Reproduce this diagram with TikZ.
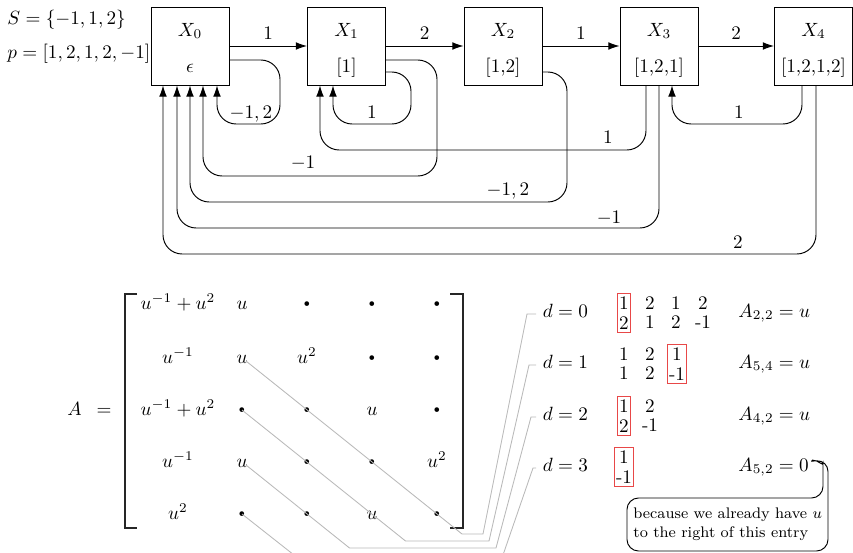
\documentclass[tikz,border=0pt]{standalone}
\usetikzlibrary{arrows.meta,calc}
\definecolor{hlred}{RGB}{232,72,72}
\newcommand{\mdot}{\vcenter{\hbox{\tiny$\bullet$}}}
\begin{document}
\begin{tikzpicture}[x=0.522pt,y=-0.522pt, line width=0.5pt,
  box/.style={draw, minimum width=40.7pt, minimum height=40.7pt, inner sep=0pt},
  conn/.style={draw, -{Latex[length=5.8pt,width=4pt]}, rounded corners=10pt},
  lab/.style={anchor=base, inner sep=0pt},
  ent/.style={anchor=base, inner sep=0pt},
  diag/.style={draw=gray!55, line width=0.45pt},
  dcol/.style={anchor=north, align=center, inner xsep=0.8pt, inner ysep=1.6pt},
  hl/.style={draw=hlred, line width=0.6pt},
  dlab/.style={anchor=base west},
  alab/.style={anchor=base west, inner sep=0pt}]
\clip (0,0) rectangle (853,553);

% ---------- automaton ----------
\node[anchor=base west, inner sep=0pt] (S) at (7,24) {$S=\{-1,1,2\}$};
\node[anchor=base west, inner sep=0pt] (P) at (7,58) {$p=[1,2,1,2,-1]$};

\node[box] (X0) at (190,46) {};
\node[box] (X1) at (346.5,46) {};
\node[box] (X2) at (503,46) {};
\node[box] (X3) at (659,46) {};
\node[box] (X4) at (813.5,46) {};

\node[lab] (X0a) at (190,36) {$X_0$};
\node[lab] (X0b) at (190,72) {$\epsilon$};
\node[lab] (X1a) at (346.5,36) {$X_1$};
\node[lab] (X1b) at (346.5,72) {[1]};
\node[lab] (X2a) at (503,36) {$X_2$};
\node[lab] (X2b) at (503,72) {[1,2]};
\node[lab] (X3a) at (659,36) {$X_3$};
\node[lab] (X3b) at (659,72) {[1,2,1]};
\node[lab] (X4a) at (813.5,36) {$X_4$};
\node[lab] (X4b) at (813.5,72) {[1,2,1,2]};

\draw[conn] (X0) -- node[above] (e01) {$1$} (X1);
\draw[conn] (X1) -- node[above] (e12) {$2$} (X2);
\draw[conn] (X2) -- node[above] (e23) {$1$} (X3);
\draw[conn] (X3) -- node[above] (e34) {$2$} (X4);

% back connectors
\draw[conn] ($(X0.east)+(0,14)$) -- (280,60) -- (280,124) -- (217,124) -- ($(X0.south)+(27,0)$);
\node[lab] (l00) at (251,118) {$-1,2$};

\draw[conn] ($(X1.east)+(0,26)$) -- (411,72) -- (411,124) -- (333,124) -- ($(X1.south)+(-13.5,0)$);
\node[lab] (l11) at (372,118) {$1$};

\draw[conn] ($(X1.east)+(0,14)$) -- (437,60) -- (437,176) -- (203,176) -- ($(X0.south)+(13,0)$);
\node[lab] (l10) at (303,168) {$-1$};

\draw[conn] ($(X2.east)+(0,26)$) -- (567,72) -- (567,202) -- (190,202) -- (X0.south);
\node[lab] (l20) at (508,195) {$-1,2$};

\draw[conn] ($(X3.south)+(-13,0)$) -- (646,150) -- (320,150) -- ($(X1.south)+(-26.5,0)$);
\node[lab] (l31) at (608,143) {$1$};

\draw[conn] (X3.south) -- (659,228) -- (177,228) -- ($(X0.south)+(-13,0)$);
\node[lab] (l30) at (609,223) {$-1$};

\draw[conn] ($(X4.south)+(-11.5,0)$) -- (802,124) -- (672,124) -- ($(X3.south)+(13,0)$);
\node[lab] (l43) at (739,118) {$1$};

\draw[conn] ($(X4.south)+(2.5,0)$) -- (816,254) -- (163,254) -- ($(X0.south)+(-27,0)$);
\node[lab] (l40) at (738,248) {$2$};

% ---------- matrix ----------
\node[anchor=base east, inner sep=0pt] (Aeq) at (112,415) {$A\enspace=$};

\node[ent] (m11) at (178,309) {$u^{-1}+u^2$};
\node[ent] (m12) at (242,309) {$u$};
\node[ent] (m13) at (307,309) {$\mdot$};
\node[ent] (m14) at (372,309) {$\mdot$};
\node[ent] (m15) at (437,309) {$\mdot$};

\node[ent] (m21) at (178,363) {$u^{-1}$};
\node[ent] (m22) at (242,363) {$u$};
\node[ent] (m23) at (307,363) {$u^2$};
\node[ent] (m24) at (372,363) {$\mdot$};
\node[ent] (m25) at (437,363) {$\mdot$};

\node[ent] (m31) at (178,415) {$u^{-1}+u^2$};
\node[ent] (m32) at (242,415) {$\mdot$};
\node[ent] (m33) at (307,415) {$\mdot$};
\node[ent] (m34) at (372,415) {$u$};
\node[ent] (m35) at (437,415) {$\mdot$};

\node[ent] (m41) at (178,467) {$u^{-1}$};
\node[ent] (m42) at (242,467) {$u$};
\node[ent] (m43) at (307,467) {$\mdot$};
\node[ent] (m44) at (372,467) {$\mdot$};
\node[ent] (m45) at (437,467) {$u^2$};

\node[ent] (m51) at (178,519) {$u^2$};
\node[ent] (m52) at (242,519) {$\mdot$};
\node[ent] (m53) at (307,519) {$\mdot$};
\node[ent] (m54) at (372,519) {$u$};
\node[ent] (m55) at (437,519) {$\mdot$};

\draw[line width=0.55pt, black!85] (137,294) -- (125,294) -- (125,528) -- (137,528);
\draw[line width=0.55pt, black!85] (450,294) -- (463,294) -- (463,528) -- (450,528);

% ---------- diagonals ----------
\node[dlab] (d0) at (536,317) {$d=0$};
\node[dlab] (d1) at (536,368) {$d=1$};
\node[dlab] (d2) at (536,420) {$d=2$};
\node[dlab] (d3) at (536,471) {$d=3$};

\draw[diag] ($(m22.base)+(4,-2)$) -- (462,534) -- (483,534) -- (527,314) -- ($(d0.base west)+(0,-3)$);
\draw[diag] ($(m32.base)+(0,-5)$) -- (405.5,541) -- (489,541) -- (529,365) -- ($(d1.base west)+(0,-3)$);
\draw[diag] ($(m42.base)+(4,-2)$) -- (349.5,548) -- (496,548) -- (531,417) -- ($(d2.base west)+(0,-3)$);
\draw[diag] ($(m52.base)+(0,-5)$) -- (294,555) -- (503,555) -- (533,468) -- ($(d3.base west)+(0,-3)$);

% ---------- digit columns ----------
\node[dcol,hl] (c01) at (624,292.7) {1\\[-1.6pt]2};
\node[dcol] (c02) at (650,292.7) {2\\[-1.6pt]1};
\node[dcol] (c03) at (676,292.7) {1\\[-1.6pt]2};
\node[dcol] (c04) at (703,292.7) {2\\[-1.6pt]-1};

\node[dcol] (c11) at (624,343.7) {1\\[-1.6pt]1};
\node[dcol] (c12) at (650,343.7) {2\\[-1.6pt]2};
\node[dcol,hl] (c13) at (677,343.7) {1\\[-1.6pt]-1};

\node[dcol,hl] (c21) at (624,395.7) {1\\[-1.6pt]2};
\node[dcol] (c22) at (650,395.7) {2\\[-1.6pt]-1};

\node[dcol,hl] (c31) at (624,447) {1\\[-1.6pt]-1};

% ---------- entries ----------
\node[alab] (A0) at (738,317) {$A_{2,2}=u$};
\node[alab] (A1) at (738,368) {$A_{5,4}=u$};
\node[alab] (A2) at (738,420) {$A_{4,2}=u$};
\node[alab] (A3) at (738,471) {$A_{5,2}=0$};

% ---------- callout ----------
\node[anchor=north west, inner sep=0pt, align=left, font=\footnotesize] (note) at (633,507)
  {because we already have $u$\\[0.6pt]to the right of this entry};
\draw[rounded corners=6pt] ($(A3.east)+(2,-6)$) -- (828,460) -- (828,551) -- (627,551) -- (627,498) -- (823,498) -- (823,474) [sharp corners] to[out=90,in=0] (812,460);
\end{tikzpicture}
\end{document}
